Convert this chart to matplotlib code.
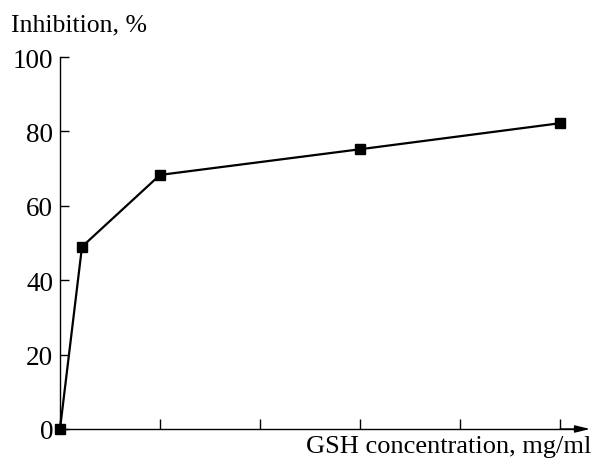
import matplotlib.pyplot as plt

# GSH concentration (tick units) and inhibition, %
conc = [0, 0.22, 1, 3, 5]
inhibition = [0, 49, 68.3, 75.2, 82.2]

x_ticks = [0, 1, 2, 3, 4, 5]
y_ticks = [0, 20, 40, 60, 80, 100]

plt.rcParams['font.family'] = ['Liberation Serif', 'DejaVu Serif']

fig = plt.figure(figsize=(5.94, 4.60), dpi=100)
ax = fig.add_axes([60 / 594, 1 - 430 / 460, 520 / 594, 372 / 460])

ax.plot(conc, inhibition, color='black', linewidth=1.6, marker='s',
        markersize=7, markerfacecolor='black', clip_on=False, zorder=3)

ax.set_xlim(0, 5.2)
ax.set_ylim(0, 100)
ax.set_xticks(x_ticks)
ax.set_xticklabels([])
ax.set_yticks(y_ticks)
ax.set_yticklabels([str(v) for v in y_ticks], fontsize=19.5)

ax.spines['top'].set_visible(False)
ax.spines['right'].set_visible(False)
for side in ['left', 'bottom']:
    ax.spines[side].set_linewidth(1.0)

ax.tick_params(axis='y', direction='in', length=6.5, width=1.0, pad=5)
ax.tick_params(axis='x', direction='in', length=7, width=1.0)

# arrow at the end of the x axis
ax.annotate('', xy=(5.3, 0), xytext=(5.0, 0), xycoords='data',
            arrowprops=dict(arrowstyle='-|>,head_length=0.9,head_width=0.22',
                            color='black', lw=1.0, shrinkA=0, shrinkB=0),
            annotation_clip=False)

fig.text(11 / 594, 1 - 25 / 460, 'Inhibition, %', fontsize=18.5,
         ha='left', va='center')
fig.text(591 / 594, 1 - 447 / 460, 'GSH concentration, mg/ml', fontsize=19,
         ha='right', va='center')

fig.savefig('out.png', dpi=100)
